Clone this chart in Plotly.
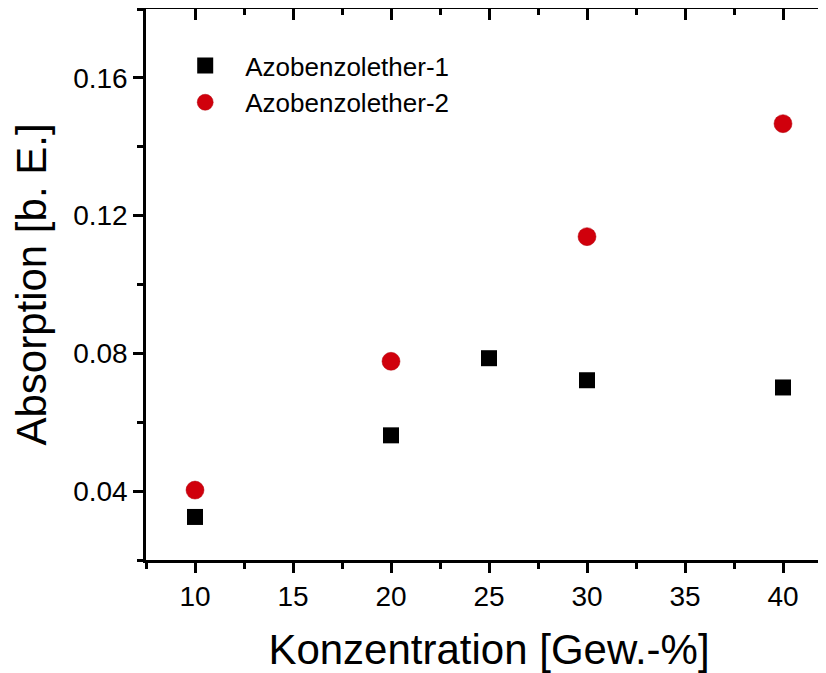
import plotly.graph_objects as go

# Data
x_az1 = [10, 20, 25, 30, 40]
y_az1 = [0.0325, 0.0562, 0.0786, 0.0722, 0.0701]
x_az2 = [10, 20, 30, 40]
y_az2 = [0.0403, 0.0777, 0.1139, 0.1467]
name_az1 = "Azobenzolether-1"
name_az2 = "Azobenzolether-2"
x_title = "Konzentration [Gew.-%]"
y_title = "Absorption [b. E.]"

FONT = "Arial, Liberation Sans, sans-serif"
RED = "#d0000c"

fig = go.Figure()
fig.add_trace(go.Scatter(x=x_az1, y=y_az1, mode="markers", name=name_az1,
                         marker=dict(symbol="square", size=16, color="black",
                                     line=dict(width=0))))
fig.add_trace(go.Scatter(x=x_az2, y=y_az2, mode="markers", name=name_az2,
                         marker=dict(symbol="circle", size=18, color=RED,
                                     line=dict(width=0.5, color="#b0000a"))))
# invisible trace to carry the mirrored (top/right) axes
fig.add_trace(go.Scatter(x=x_az1, y=y_az1, mode="markers", xaxis="x2", yaxis="y2",
                         marker=dict(opacity=0), showlegend=False, hoverinfo="skip"))

XR = [7.5, 42.5]
YR = [0.02, 0.18]
axcommon = dict(showgrid=False, zeroline=False, linecolor="black", linewidth=2.5,
                tickcolor="black", tickwidth=2.5,
                tickfont=dict(family=FONT, size=28, color="black"))

fig.update_layout(
    width=826, height=665,
    margin=dict(l=138, r=2, t=1, b=113),
    paper_bgcolor="white", plot_bgcolor="white",
    font=dict(family=FONT, color="black"),
    showlegend=True,
    legend=dict(x=0.028, y=0.94, xanchor="left", yanchor="top",
                bgcolor="rgba(0,0,0,0)", font=dict(family=FONT, size=26, color="black"),
                itemwidth=70, tracegroupgap=0),
    xaxis=dict(range=XR, tickmode="linear", tick0=0, dtick=5, ticks="outside", ticklen=10,
               showline=True, title=dict(text=x_title, font=dict(family=FONT, size=42, color="black"), standoff=30),
               minor=dict(dtick=2.5, tick0=0, ticklen=6, tickwidth=2.5, tickcolor="black", ticks="outside"),
               **axcommon),
    yaxis=dict(range=YR, tickmode="linear", tick0=0, dtick=0.04, ticks="outside", ticklen=10,
               tickformat=".2f", showline=True,
               title=dict(text=y_title, font=dict(family=FONT, size=42, color="black"), standoff=24),
               minor=dict(dtick=0.02, tick0=0, ticklen=6, tickwidth=2.5, tickcolor="black", ticks="outside"),
               **axcommon),
    xaxis2=dict(range=XR, overlaying="x", side="top", anchor="y", matches="x",
                tickmode="linear", tick0=0, dtick=5, ticks="inside", ticklen=11,
                showticklabels=False, showline=True,
                minor=dict(dtick=2.5, tick0=0, ticklen=6, tickwidth=2.5, tickcolor="black", ticks="inside"),
                **axcommon),
    yaxis2=dict(range=YR, overlaying="y", side="right", anchor="x", matches="y",
                tickmode="linear", tick0=0, dtick=0.04, ticks="inside", ticklen=12,
                showticklabels=False, showline=True,
                minor=dict(dtick=0.02, tick0=0, ticklen=7, tickwidth=2.5, tickcolor="black", ticks="inside"),
                **axcommon),
)

fig.write_html("out.html")
